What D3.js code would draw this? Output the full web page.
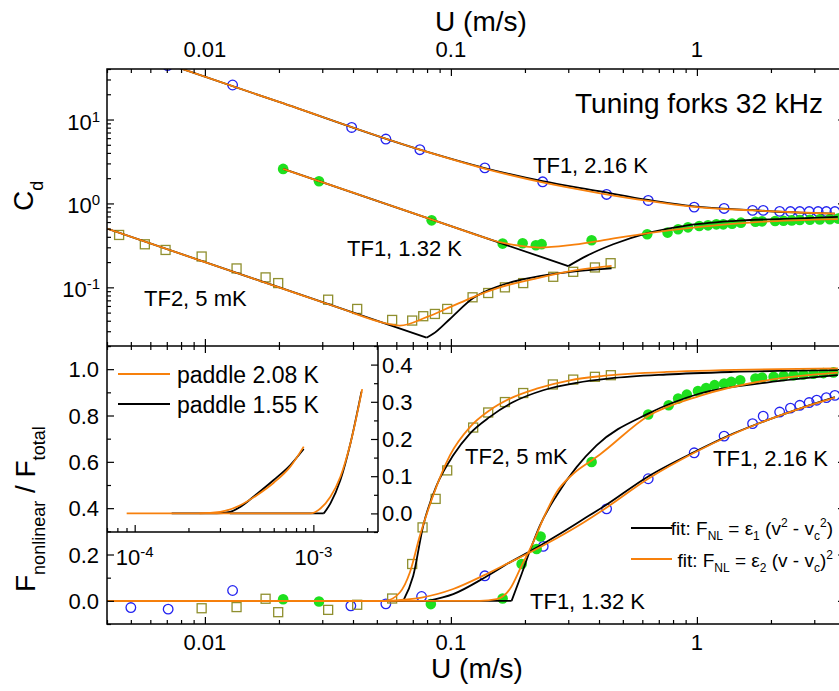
<!DOCTYPE html>
<html><head><meta charset="utf-8">
<script src="https://cdn.jsdelivr.net/npm/d3@7"></script>
<style>
body{margin:0;background:#fff}
svg{display:block}
text{font-family:"Liberation Sans",Arial,sans-serif;fill:#000}
</style>
</head><body><svg id="c" width="839" height="691"></svg>
<script>
// ---------------- DATA ----------------
const xDomain = [0.004, 4];
const cdDomain = [0.02, 40];
const fDomain = [-0.1, 1.1];
const insetXDomain = [7e-5, 2.3e-3];
const insetYDomain = [-0.05, 0.45];

const xMajor = [0.01, 0.1, 1];
const xMajorLabels = ["0.01", "0.1", "1"];
const cdMajor = [0.1, 1, 10];
const cdExp = ["-1", "0", "1"];
const fMajor = [0, 0.2, 0.4, 0.6, 0.8, 1.0];
const fLabels = ["0.0", "0.2", "0.4", "0.6", "0.8", "1.0"];
const fMinor = [-0.1, 0.1, 0.3, 0.5, 0.7, 0.9, 1.1];
const inXMajor = [1e-4, 1e-3];
const inXExp = ["-4", "-3"];
const inYMajor = [0, 0.1, 0.2, 0.3, 0.4];
const inYLabels = ["0.0", "0.1", "0.2", "0.3", "0.4"];
const inYMinor = [-0.05, 0.05, 0.15, 0.25, 0.35, 0.45];

// top panel: drag coefficient
const tf1HotCd = [[0.005,65],[0.00705,44],[0.01296,25.8],[0.0395,8.04],[0.0544,5.85],[0.0748,4.37],[0.1374,2.65],[0.236,1.81],[0.4295,1.28],[0.634,1.085],[0.975,0.904],[1.29,0.872],[1.684,0.826],[1.86,0.826],[2.17,0.804],[2.40,0.80],[2.62,0.80],[2.86,0.80],[3.11,0.80],[3.36,0.80],[3.64,0.80]];
const tf1ColdCd = [[0.0208,2.58],[0.0291,1.84],[0.0835,0.629],[0.1623,0.332],[0.1957,0.335],[0.2216,0.318],[0.2337,0.327],[0.3733,0.364],[0.628,0.429],[0.760,0.449],[0.839,0.492],[0.92,0.519],[1.022,0.538],[1.11,0.548],[1.20,0.563],[1.28,0.563],[1.39,0.574],[1.51,0.59],[1.73,0.606],[1.84,0.612],[2.08,0.617],[2.25,0.623],[2.43,0.628],[2.62,0.634],[2.88,0.64],[3.16,0.645],[3.47,0.65],[3.75,0.66]];
const tf2Cd = [[0.00448,0.421],[0.0057,0.326],[0.00692,0.279],[0.0097,0.233],[0.01345,0.168],[0.01765,0.1314],[0.01986,0.1124],[0.0317,0.0713],[0.0416,0.0553],[0.0577,0.0409],[0.0696,0.0402],[0.0772,0.0453],[0.0861,0.0482],[0.0966,0.0553],[0.1225,0.0761],[0.1418,0.0856],[0.1658,0.1],[0.1968,0.1124],[0.2606,0.1336],[0.3142,0.1532],[0.385,0.1726],[0.446,0.194]];

const fitCdHotBlack = [[0.0075,43.2],[0.02,16.2],[0.0748,4.37],[0.137,2.64],[0.236,1.84],[0.40,1.40],[0.634,1.10],[0.975,0.92],[1.684,0.83],[2.62,0.776],[3.64,0.755]];
const fitCdHotOrange = [[0.0075,43.2],[0.02,16.2],[0.0748,4.37],[0.137,2.60],[0.236,1.78],[0.40,1.33],[0.634,1.07],[0.975,0.91],[1.684,0.826],[2.62,0.78],[3.64,0.755]];
const fitCdColdBlack = [[0.0208,2.58],[0.30,0.179],[0.3563,0.237],[0.457,0.326],[0.624,0.441],[0.88,0.538],[1.40,0.617],[2.62,0.664],[3.74,0.692]];
const fitCdColdOrange = [[0.0208,2.58],[0.04,1.342],[0.062,0.865],[0.1,0.537],[0.14,0.383],[0.158,0.345],[0.1908,0.313],[0.230,0.298],[0.3046,0.318],[0.4035,0.359],[0.626,0.441],[1.028,0.526],[1.803,0.603],[3.74,0.651]];
const fitCdTf2Black = [[0.004,0.501],[0.0796,0.0251],[0.0847,0.0279],[0.0991,0.042],[0.1232,0.0746],[0.158,0.1045],[0.216,0.1314],[0.2953,0.1507],[0.45,0.168]];
const fitCdTf2Orange = [[0.004,0.501],[0.01,0.2],[0.02,0.1],[0.035,0.0571],[0.0556,0.0367],[0.062,0.035],[0.0796,0.0441],[0.0991,0.058],[0.1225,0.0761],[0.158,0.1],[0.216,0.1255],[0.2953,0.1532],[0.45,0.180]];

// bottom panel: nonlinear force fraction
const tf1HotF = [[0.005,-0.029],[0.00709,-0.036],[0.01296,0.0446],[0.0392,-0.0216],[0.0544,-0.013],[0.076,0.0186],[0.1374,0.108],[0.2373,0.235],[0.4295,0.397],[0.634,0.527],[0.975,0.639],[1.29,0.711],[1.684,0.765],[1.86,0.797],[2.17,0.815],[2.40,0.832],[2.62,0.844],[2.86,0.856],[3.07,0.866],[3.36,0.877],[3.64,0.887]];
const tf1ColdF = [[0.0208,0.007],[0.0291,-0.003],[0.0829,-0.014],[0.1623,0.01],[0.1939,0.159],[0.2231,0.224],[0.2316,0.278],[0.3733,0.599],[0.634,0.804],[0.768,0.844],[0.839,0.873],[0.91,0.89],[1.01,0.906],[1.09,0.919],[1.18,0.931],[1.29,0.938],[1.38,0.945],[1.50,0.952],[1.73,0.96],[1.84,0.964],[2.05,0.967],[2.25,0.971],[2.47,0.974],[2.71,0.977],[2.98,0.98],[3.27,0.983],[3.59,0.986]];
const tf2F = [[0.0097,-0.032],[0.01345,-0.027],[0.01765,0.009],[0.01986,-0.049],[0.0317,-0.039],[0.0416,-0.017],[0.0577,0.01],[0.0696,0.159],[0.0767,0.317],[0.0867,0.44],[0.0966,0.563],[0.1232,0.748],[0.1418,0.813],[0.1658,0.858],[0.1968,0.897],[0.2597,0.934],[0.3142,0.955],[0.385,0.967],[0.447,0.974]];

const fitFHotBlack = [[0.004,0],[0.0806,0],[0.1022,0.029],[0.1374,0.101],[0.1737,0.166],[0.216,0.221],[0.269,0.281],[0.345,0.352],[0.415,0.405],[0.634,0.537],[0.975,0.642],[1.405,0.722],[1.92,0.779],[2.62,0.83],[3.64,0.879]];
const fitFHotOrange = [[0.004,0],[0.0539,0],[0.064,0.005],[0.076,0.014],[0.1022,0.051],[0.1374,0.112],[0.1737,0.166],[0.216,0.216],[0.269,0.27],[0.345,0.337],[0.415,0.392],[0.634,0.527],[0.975,0.639],[1.405,0.72],[1.92,0.779],[2.62,0.83],[3.64,0.877]];
const fitFColdBlack = [[0.004,0],[0.1765,0],[0.1939,0.116],[0.2095,0.216],[0.230,0.325],[0.269,0.455],[0.3243,0.577],[0.391,0.671],[0.634,0.808],[1.028,0.895],[1.92,0.942],[3.74,0.974]];
const fitFColdOrange = [[0.004,0],[0.1312,0],[0.1534,0.007],[0.1737,0.051],[0.1939,0.152],[0.216,0.252],[0.2372,0.354],[0.269,0.469],[0.3142,0.548],[0.3733,0.606],[0.4035,0.632],[0.634,0.798],[1.028,0.885],[1.92,0.952],[3.74,0.985]];
const fitFTf2Black = [[0.004,0],[0.064,0],[0.0703,0.108],[0.0772,0.325],[0.0875,0.498],[0.1022,0.628],[0.1195,0.722],[0.144,0.794],[0.1792,0.858],[0.2372,0.909],[0.3243,0.941],[0.443,0.96],[0.753,0.977],[1.405,0.988],[3.74,0.996]];
const fitFTf2Orange = [[0.004,0],[0.0539,0],[0.062,0.036],[0.0681,0.122],[0.0748,0.281],[0.0847,0.455],[0.0991,0.628],[0.1195,0.75],[0.144,0.823],[0.1737,0.873],[0.2231,0.916],[0.3046,0.952],[0.416,0.971],[0.753,0.988],[3.74,1.003]];

// inset: paddle
const paddle208a = [[9.02e-5,0],[2.32e-4,0],[3.01e-4,0.004],[3.90e-4,0.022],[4.83e-4,0.049],[6.00e-4,0.0825],[7.43e-4,0.1256],[8.83e-4,0.1795]];
const paddle155a = [[1.61e-4,0],[2.88e-4,0],[3.42e-4,0.004],[3.90e-4,0.0175],[4.83e-4,0.0523],[6.00e-4,0.0898],[7.43e-4,0.130],[8.83e-4,0.173]];
const paddle208b = [[2.31e-4,0],[9.62e-4,0],[1.095e-3,0.013],[1.246e-3,0.0445],[1.417e-3,0.0984],[1.613e-3,0.1887],[1.876e-3,0.334]];
const paddle155b = [[3.41e-4,0],[1.144e-3,0],[1.246e-3,0.027],[1.417e-3,0.0898],[1.613e-3,0.1887],[1.859e-3,0.3275]];

const labelsTop = ["Tuning forks 32 kHz", "TF1, 2.16 K", "TF1, 1.32 K", "TF2, 5 mK"];
const labelsBot = ["TF2, 5 mK", "TF1, 2.16 K", "TF1, 1.32 K"];
const legendInset = ["paddle 2.08 K", "paddle 1.55 K"];

// ---------------- STYLE ----------------
const ORANGE = "#f7800c", BLACK = "#000", BLUE = "#2323f0", GREEN = "#1ee01e", OLIVE = "#8f8f2e";
const X0 = 107, X1 = 845, YT = 69, YM = 346, YB = 624, INR = 378, INB = 532;

const svg = d3.select("#c");
const x = d3.scaleLog().domain(xDomain).range([X0, X1]);
const yTop = d3.scaleLog().domain(cdDomain).range([YM, YT]);
const yBot = d3.scaleLinear().domain(fDomain).range([YB, YM]);
const xIn = d3.scaleLog().domain(insetXDomain).range([X0, INR]);
const yIn = d3.scaleLinear().domain(insetYDomain).range([INB, YM]);

const defs = svg.append("defs");
defs.append("clipPath").attr("id", "cTop").append("rect").attr("x", X0).attr("y", YT).attr("width", X1 - X0).attr("height", YM - YT);
defs.append("clipPath").attr("id", "cBot").append("rect").attr("x", X0).attr("y", YM).attr("width", X1 - X0).attr("height", YB - YM);
defs.append("clipPath").attr("id", "cIn").append("rect").attr("x", X0).attr("y", YM).attr("width", INR - X0).attr("height", INB - YM);

function drawFit(g, data, xs, ys, color, kink) {
  const ln = d3.line().x(d => xs(d[0])).y(d => ys(d[1]));
  const st = p => p.attr("fill", "none").attr("stroke", color).attr("stroke-width", 1.8).attr("stroke-linejoin", "round");
  if (kink > 0) {
    g.append("path").attr("d", ln.curve(d3.curveLinear)(data.slice(0, kink + 1))).call(st);
    g.append("path").attr("d", ln.curve(d3.curveMonotoneX)(data.slice(kink))).call(st);
  } else {
    g.append("path").attr("d", ln.curve(d3.curveMonotoneX)(data)).call(st);
  }
}
function circles(g, data, xs, ys) {
  g.selectAll(null).data(data).enter().append("circle")
    .attr("cx", d => xs(d[0])).attr("cy", d => ys(d[1])).attr("r", 4.8)
    .attr("fill", "none").attr("stroke", BLUE).attr("stroke-width", 1.3);
}
function dots(g, data, xs, ys) {
  g.selectAll(null).data(data).enter().append("circle")
    .attr("cx", d => xs(d[0])).attr("cy", d => ys(d[1])).attr("r", 5.3).attr("fill", GREEN);
}
function squares(g, data, xs, ys) {
  g.selectAll(null).data(data).enter().append("rect")
    .attr("x", d => xs(d[0]) - 4.5).attr("y", d => ys(d[1]) - 4.5).attr("width", 9).attr("height", 9)
    .attr("fill", "none").attr("stroke", OLIVE).attr("stroke-width", 1.3);
}
function rich(g, px, py, segs, size, anchor, transform) {
  const t = g.append("text").attr("font-size", size).attr("text-anchor", anchor || "start");
  if (transform) t.attr("transform", transform); else t.attr("x", px).attr("y", py);
  let cur = 0;
  segs.forEach(s => {
    const off = s[1] || 0;
    const sp = t.append("tspan").text(s[0]).attr("dy", off - cur);
    if (s[2]) sp.attr("font-size", s[2]);
    cur = off;
  });
  return t;
}

// ---------------- TOP PANEL ----------------
const gTop = svg.append("g").attr("clip-path", "url(#cTop)");
circles(gTop, tf1HotCd, x, yTop);
dots(gTop, tf1ColdCd, x, yTop);
squares(gTop, tf2Cd, x, yTop);
drawFit(gTop, fitCdHotBlack, x, yTop, BLACK, 0);
drawFit(gTop, fitCdColdBlack, x, yTop, BLACK, 1);
drawFit(gTop, fitCdTf2Black, x, yTop, BLACK, 1);
drawFit(gTop, fitCdHotOrange, x, yTop, ORANGE, 0);
drawFit(gTop, fitCdColdOrange, x, yTop, ORANGE, 0);
drawFit(gTop, fitCdTf2Orange, x, yTop, ORANGE, 0);

// ---------------- BOTTOM PANEL ----------------
const gBot = svg.append("g").attr("clip-path", "url(#cBot)");
circles(gBot, tf1HotF, x, yBot);
dots(gBot, tf1ColdF, x, yBot);
squares(gBot, tf2F, x, yBot);
drawFit(gBot, fitFHotBlack, x, yBot, BLACK, 1);
drawFit(gBot, fitFColdBlack, x, yBot, BLACK, 1);
drawFit(gBot, fitFTf2Black, x, yBot, BLACK, 1);
drawFit(gBot, fitFHotOrange, x, yBot, ORANGE, 0);
drawFit(gBot, fitFColdOrange, x, yBot, ORANGE, 0);
drawFit(gBot, fitFTf2Orange, x, yBot, ORANGE, 0);

// ---------------- INSET ----------------
svg.append("rect").attr("x", X0).attr("y", YM).attr("width", INR - X0).attr("height", INB - YM).attr("fill", "#fff");
const gIn = svg.append("g").attr("clip-path", "url(#cIn)");
drawFit(gIn, paddle155a, xIn, yIn, BLACK, 0);
drawFit(gIn, paddle155b, xIn, yIn, BLACK, 1);
drawFit(gIn, paddle208a, xIn, yIn, ORANGE, 0);
drawFit(gIn, paddle208b, xIn, yIn, ORANGE, 0);

// ---------------- AXES ----------------
function tk(g, axis, vals, size) {
  g.call(axis.tickValues(vals).tickSize(size).tickSizeOuter(0).tickFormat(""));
  g.select(".domain").remove();
  g.selectAll(".tick line").attr("stroke", "#000").attr("stroke-width", 1.2);
}
const xMinor = x.ticks().filter(v => !xMajor.some(m => Math.abs(m - v) / m < 1e-6));
const cdMinor = yTop.ticks().filter(v => !cdMajor.some(m => Math.abs(m - v) / m < 1e-6));
const inXMinor = xIn.ticks().filter(v => !inXMajor.some(m => Math.abs(m - v) / m < 1e-6));
const ax = svg.append("g");
[[YT, d3.axisBottom], [YM, d3.axisTop], [YM, d3.axisBottom], [YB, d3.axisTop]].forEach(([yy, f]) => {
  tk(ax.append("g").attr("transform", `translate(0,${yy})`), f(x), xMajor, 7);
  tk(ax.append("g").attr("transform", `translate(0,${yy})`), f(x), xMinor, 4);
});
tk(ax.append("g").attr("transform", `translate(${X0},0)`), d3.axisRight(yTop), cdMajor, 7);
tk(ax.append("g").attr("transform", `translate(${X0},0)`), d3.axisRight(yTop), cdMinor, 4);
tk(ax.append("g").attr("transform", `translate(${X1},0)`), d3.axisLeft(yTop), cdMajor, 7);
tk(ax.append("g").attr("transform", `translate(${X1},0)`), d3.axisLeft(yTop), cdMinor, 4);
tk(ax.append("g").attr("transform", `translate(${X0},0)`), d3.axisRight(yBot), fMajor, 7);
tk(ax.append("g").attr("transform", `translate(${X0},0)`), d3.axisRight(yBot), fMinor, 4);
tk(ax.append("g").attr("transform", `translate(${X1},0)`), d3.axisLeft(yBot), fMajor, 7);
tk(ax.append("g").attr("transform", `translate(${X1},0)`), d3.axisLeft(yBot), fMinor, 4);
tk(ax.append("g").attr("transform", `translate(0,${INB})`), d3.axisTop(xIn), inXMajor, 7);
tk(ax.append("g").attr("transform", `translate(0,${INB})`), d3.axisTop(xIn), inXMinor, 4);
tk(ax.append("g").attr("transform", `translate(${INR},0)`), d3.axisLeft(yIn), inYMajor, 7);
tk(ax.append("g").attr("transform", `translate(${INR},0)`), d3.axisLeft(yIn), inYMinor, 4);

// frames
const fr = svg.append("g").attr("fill", "none").attr("stroke", "#000").attr("stroke-width", 1.5);
fr.append("rect").attr("x", X0).attr("y", YT).attr("width", X1 - X0).attr("height", YB - YT);
fr.append("line").attr("x1", X0).attr("x2", X1).attr("y1", YM).attr("y2", YM);
fr.append("line").attr("x1", INR).attr("x2", INR).attr("y1", YM).attr("y2", INB);
fr.append("line").attr("x1", X0).attr("x2", INR).attr("y1", INB).attr("y2", INB);

// ---------------- LABELS ----------------
const lb = svg.append("g");
xMajor.forEach((v, i) => {
  lb.append("text").attr("x", x(v)).attr("y", 57).attr("text-anchor", "middle").attr("font-size", 22).text(xMajorLabels[i]);
  lb.append("text").attr("x", x(v)).attr("y", 650).attr("text-anchor", "middle").attr("font-size", 22).text(xMajorLabels[i]);
});
lb.append("text").attr("x", 481).attr("y", 31).attr("text-anchor", "middle").attr("font-size", 28).text("U (m/s)");
lb.append("text").attr("x", 477).attr("y", 678).attr("text-anchor", "middle").attr("font-size", 28).text("U (m/s)");
cdMajor.forEach((v, i) => {
  rich(lb, 100, yTop(v) + 10, [["10", 0], [cdExp[i], -8, 15]], 22, "end");
});
fMajor.forEach((v, i) => {
  lb.append("text").attr("x", 99).attr("y", yBot(v) + 8).attr("text-anchor", "end").attr("font-size", 22).text(fLabels[i]);
});
inYMajor.forEach((v, i) => {
  lb.append("text").attr("x", 382).attr("y", yIn(v) + 8).attr("font-size", 22).text(inYLabels[i]);
});
inXMajor.forEach((v, i) => {
  rich(lb, xIn(v), 565, [["10", 0], [inXExp[i], -8, 15]], 22, "middle");
});
// axis titles
rich(lb, 0, 0, [["C", 0], ["d", 10, 18]], 28, "start", "translate(33,211) rotate(-90)");
rich(lb, 0, 0, [["F", 0], ["nonlinear", 10, 18], [" / F", 0], ["total", 10, 18]], 28, "start", "translate(35,592) rotate(-90)");

// annotations
lb.append("text").attr("x", 575).attr("y", 113).attr("font-size", 28).text(labelsTop[0]);
lb.append("text").attr("x", 533).attr("y", 173).attr("font-size", 22).text(labelsTop[1]);
lb.append("text").attr("x", 347).attr("y", 256).attr("font-size", 22).text(labelsTop[2]);
lb.append("text").attr("x", 144).attr("y", 306).attr("font-size", 22).text(labelsTop[3]);
lb.append("text").attr("x", 465).attr("y", 464).attr("font-size", 22).text(labelsBot[0]);
lb.append("text").attr("x", 713).attr("y", 466).attr("font-size", 22).text(labelsBot[1]);
lb.append("text").attr("x", 530).attr("y", 609).attr("font-size", 22).text(labelsBot[2]);

// inset legend
[[ORANGE, 374, 383], [BLACK, 404, 413]].forEach(([c, ly, ty], i) => {
  lb.append("line").attr("x1", 118).attr("x2", 170).attr("y1", ly).attr("y2", ly).attr("stroke", c).attr("stroke-width", 2);
  lb.append("text").attr("x", 177).attr("y", ty).attr("font-size", 23).text(legendInset[i]);
});
// fit legend
lb.append("line").attr("x1", 631).attr("x2", 672).attr("y1", 528).attr("y2", 528).attr("stroke", BLACK).attr("stroke-width", 2);
rich(lb, 833, 535, [["fit: F", 0], ["NL", 5, 12], [" = \u03b5", 0], ["1", 5, 12], [" (v", 0], ["2", -8, 12], [" - v", 0], ["c", 5, 12], ["2", -8, 12], [")", 0]], 19, "end");
lb.append("line").attr("x1", 631).attr("x2", 672).attr("y1", 559).attr("y2", 559).attr("stroke", ORANGE).attr("stroke-width", 2);
rich(lb, 833, 567, [["fit: F", 0], ["NL", 5, 12], [" = \u03b5", 0], ["2", 5, 12], [" (v - v", 0], ["c", 5, 12], [")", 0], ["2", -8, 12]], 19, "end");
</script></body></html>
